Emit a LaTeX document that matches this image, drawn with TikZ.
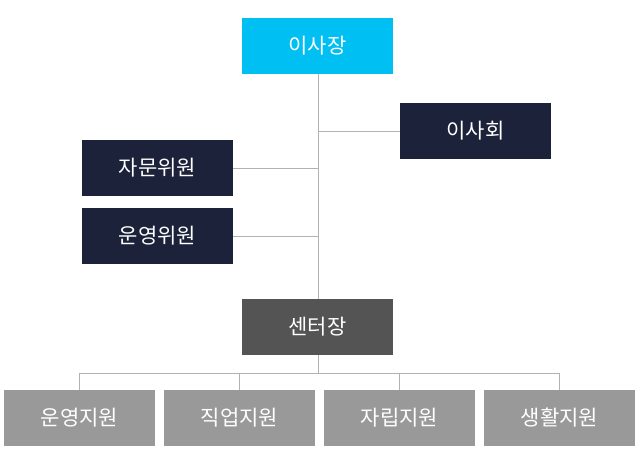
\documentclass[tikz,border=0pt]{standalone}
\usepackage{fontspec}
\setmainfont{Noto Sans CJK KR}
\begin{document}
\begin{tikzpicture}[x=1pt,y=-1pt,
  bx/.style={minimum width=151pt,minimum height=56pt,inner sep=0pt,text=white,font=\fontsize{21}{24}\selectfont,anchor=center},
  ln/.style={draw=black!30,line width=0.8pt}]
\useasboundingbox (0,0) rectangle (640,468);
\definecolor{cy}{HTML}{00BFF3}\definecolor{nv}{HTML}{1C2239}
\definecolor{dg}{HTML}{545454}\definecolor{lg}{HTML}{999999}
\node[bx,fill=cy] (a) at (317.5,46) {이사장};
\node[bx,fill=nv] (b) at (475.5,131) {이사회};
\node[bx,fill=nv] (c) at (157.5,168) {자문위원};
\node[bx,fill=nv] (d) at (157.5,236) {운영위원};
\node[bx,fill=dg] (e) at (317.5,327) {센터장};
\node[bx,fill=lg] (f1) at (79.5,418) {운영지원};
\node[bx,fill=lg] (f2) at (239.5,418) {직업지원};
\node[bx,fill=lg] (f3) at (399.5,418) {자립지원};
\node[bx,fill=lg] (f4) at (559.5,418) {생활지원};
\coordinate (t) at (318,373);
\draw[ln] (a.south -| t) -- (e.north -| t);
\draw[ln] (b.west) -- (b.west -| t);
\draw[ln] (c.east) -- (c.east -| t);
\draw[ln] (d.east) -- (d.east -| t);
\draw[ln] (e.south -| t) -- (t);
\draw[ln] (f1.north |- t) -- (f4.north |- t);
\foreach \n in {f1,f2,f3,f4} \draw[ln] (\n.north |- t) -- (\n.north);
\end{tikzpicture}
\end{document}
